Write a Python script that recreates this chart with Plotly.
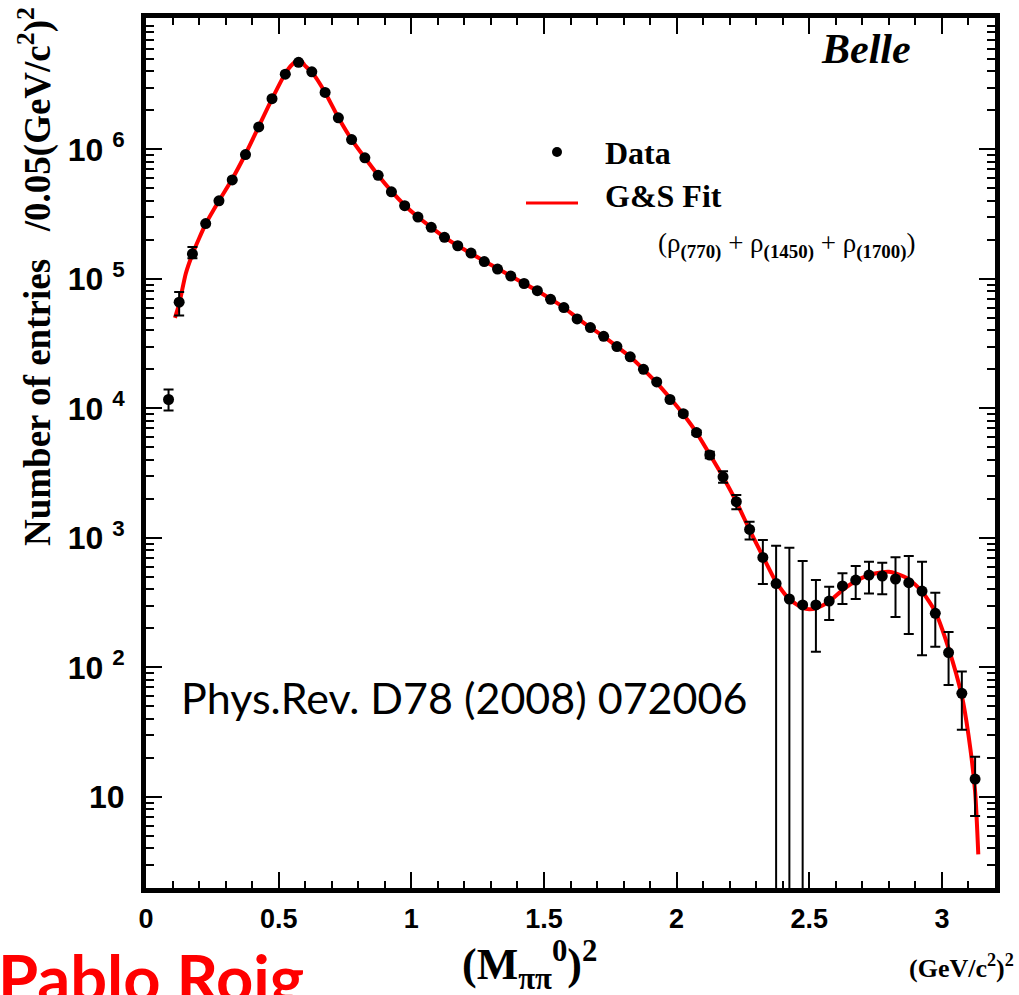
import plotly.graph_objects as go

# ---------------- data ----------------
data_x = [0.085, 0.125, 0.175, 0.225, 0.275, 0.325, 0.375, 0.425, 0.475, 0.525,
          0.575, 0.625, 0.675, 0.725, 0.775, 0.825, 0.875, 0.925, 0.975, 1.025,
          1.075, 1.125, 1.175, 1.225, 1.275, 1.325, 1.375, 1.425, 1.475, 1.525,
          1.575, 1.625, 1.675, 1.725, 1.775, 1.825, 1.875, 1.925, 1.975, 2.025,
          2.075, 2.125, 2.175, 2.225, 2.275, 2.325, 2.375, 2.425, 2.475, 2.525,
          2.575, 2.625, 2.675, 2.725, 2.775, 2.825, 2.875, 2.925, 2.975, 3.025,
          3.075, 3.125]
data_y = [1.17e4, 6.6e4, 1.56e5, 2.67e5, 4.0e5, 5.8e5, 9.1e5, 1.49e6, 2.46e6, 3.8e6,
          4.7e6, 3.97e6, 2.75e6, 1.75e6, 1.19e6, 8.6e5, 6.3e5, 4.7e5, 3.67e5, 3.0e5,
          2.5e5, 2.09e5, 1.80e5, 1.58e5, 1.36e5, 1.19e5, 1.05e5, 9.2e4, 8.1e4, 6.95e4,
          6.0e4, 4.9e4, 4.2e4, 3.6e4, 3.0e4, 2.5e4, 2.0e4, 1.6e4, 1.17e4, 9.1e3,
          6.5e3, 4.36e3, 2.96e3, 1.90e3, 1.16e3, 706, 443, 337, 303, 303,
          325, 425, 472, 516, 507, 481, 450, 388, 261, 130,
          63, 13.7]
err_plus = [2300, 1.3e4, 2.0e4, 0, 0, 0, 0, 0, 0, 0,
            0, 0, 0, 0, 0, 0, 0, 0, 0, 0,
            0, 0, 0, 0, 0, 0, 0, 0, 0, 0,
            0, 0, 0, 0, 0, 0, 0, 0, 0, 300,
            250, 250, 300, 240, 170, 256, 426, 501, 359, 169,
            94, 107, 133, 137, 135, 226, 273, 265, 116, 57,
            30, 6.7]
err_minus = [2100, 1.4e4, 1.2e4, 0, 0, 0, 0, 0, 0, 0,
             0, 0, 0, 0, 0, 0, 0, 0, 0, 0,
             0, 0, 0, 0, 0, 0, 0, 0, 0, 0,
             0, 0, 0, 0, 0, 0, 0, 0, 0, 300,
             250, 250, 300, 240, 190, 266, 442, 336, 302, 171,
             93, 117, 135, 144, 141, 236, 269, 264, 117, 57,
             30, 6.6]

fit_x = [0.109, 0.125, 0.15, 0.175, 0.2, 0.225, 0.275, 0.325, 0.375, 0.425,
         0.475, 0.525, 0.55, 0.58, 0.6, 0.625, 0.675, 0.725, 0.775, 0.825,
         0.875, 0.925, 0.975, 1.025, 1.075, 1.125, 1.175, 1.225, 1.275, 1.325,
         1.375, 1.425, 1.475, 1.525, 1.575, 1.625, 1.675, 1.725, 1.775, 1.825,
         1.875, 1.925, 1.975, 2.025, 2.075, 2.125, 2.175, 2.225, 2.275, 2.325,
         2.375, 2.425, 2.475, 2.5, 2.525, 2.575, 2.625, 2.675, 2.725, 2.775,
         2.8, 2.825, 2.875, 2.925, 2.975, 3.025, 3.075, 3.1, 3.125, 3.137]
fit_y = [5.0e4, 6.4e4, 1.10e5, 1.55e5, 2.05e5, 2.65e5, 4.0e5, 5.9e5, 9.2e5, 1.5e6,
         2.45e6, 3.85e6, 4.5e6, 4.95e6, 4.4e6, 3.95e6, 2.75e6, 1.76e6, 1.19e6, 8.6e5,
         6.3e5, 4.75e5, 3.7e5, 3.0e5, 2.5e5, 2.1e5, 1.8e5, 1.57e5, 1.37e5, 1.2e5,
         1.05e5, 9.2e4, 8.1e4, 7.0e4, 6.0e4, 5.0e4, 4.2e4, 3.6e4, 3.0e4, 2.5e4,
         2.0e4, 1.57e4, 1.2e4, 9.0e3, 6.5e3, 4.4e3, 2.95e3, 1.9e3, 1.15e3, 720,
         455, 335, 288, 281, 286, 322, 395, 465, 516, 542,
         546, 532, 480, 385, 268, 140, 60, 30, 11, 3.6]

x_tickvals = [0, 0.5, 1, 1.5, 2, 2.5, 3]
x_ticktext = ["0", "0.5", "1", "1.5", "2", "2.5", "3"]
y_tickvals = [10, 100, 1e3, 1e4, 1e5, 1e6]
y_ticktext = ["10", "10 <sup>2</sup>", "10 <sup>3</sup>", "10 <sup>4</sup>",
              "10 <sup>5</sup>", "10 <sup>6</sup>"]

# ---------------- layout geometry ----------------
W, H = 1019, 995
L, R, T, B = 146, 24, 18, 107
PW, PH = W - L - R, H - T - B


def px(x):
    return (x - L) / PW


def py(y):
    return (H - B - y) / PH


y_minor = [m * 10 ** k for k in range(0, 7) for m in range(2, 10)]

fig = go.Figure()
fig.add_trace(go.Scatter(
    x=fit_x, y=fit_y, mode="lines",
    line=dict(color="#ff0000", width=4, shape="spline", smoothing=0.6),
    showlegend=False, hoverinfo="skip"))
fig.add_trace(go.Scatter(
    x=data_x, y=data_y, mode="markers",
    marker=dict(color="black", size=11),
    error_y=dict(type="data", symmetric=False, array=err_plus, arrayminus=err_minus,
                 color="black", thickness=2, width=5),
    showlegend=False))

serif = "Liberation Serif"
sans = "Liberation Sans"

fig.update_layout(
    width=W, height=H,
    margin=dict(l=L, r=R, t=T, b=B, pad=0),
    paper_bgcolor="white", plot_bgcolor="white",
    xaxis=dict(range=[0, 3.2], showgrid=False, zeroline=False,
               showline=True, linewidth=5, linecolor="black", mirror="allticks",
               ticks="inside", ticklen=16, tickwidth=2, tickcolor="black",
               tickvals=x_tickvals, ticktext=x_ticktext,
               tickfont=dict(family=sans, size=27, color="black", weight="bold"),
               ticklabelstandoff=3,
               minor=dict(dtick=0.1, ticks="inside", ticklen=7, tickwidth=2,
                          tickcolor="black", showgrid=False)),
    yaxis=dict(type="log", range=[0.296, 7.014], showgrid=False, zeroline=False,
               showline=True, linewidth=5, linecolor="black", mirror="allticks",
               ticks="inside", ticklen=16, tickwidth=2, tickcolor="black",
               tickvals=y_tickvals, ticktext=y_ticktext,
               tickfont=dict(family=sans, size=32, color="black", weight="bold"),
               ticklabelstandoff=10,
               minor=dict(tickvals=y_minor, ticks="inside", ticklen=8, tickwidth=2,
                          tickcolor="black", showgrid=False)),
)

ann = []
ann.append(dict(text="Belle", x=px(866), y=py(49), xanchor="center", yanchor="middle",
                font=dict(family=serif, size=42, color="black", weight="bold", style="italic")))
ann.append(dict(text="Data", x=px(603), y=py(153), xanchor="left", yanchor="middle",
                font=dict(family=serif, size=32, color="black", weight="bold")))
ann.append(dict(text="G&amp;S Fit", x=px(603), y=py(196), xanchor="left", yanchor="middle",
                font=dict(family=serif, size=32, color="black", weight="bold")))
ann.append(dict(text="(ρ<sub><b>(770)</b></sub> + ρ<sub><b>(1450)</b></sub> + ρ<sub><b>(1700)</b></sub>)",
                x=px(656), y=py(245), xanchor="left", yanchor="middle",
                font=dict(family=serif, size=27, color="black")))
ann.append(dict(text="Phys.Rev. D78 (2008) 072006", x=px(179), y=py(697),
                xanchor="left", yanchor="middle",
                font=dict(family="Lato", size=43, color="black")))
ann.append(dict(text="Number of entries\u00a0\u00a0\u00a0/0.05(GeV/c<sup>2</sup>)<sup>2</sup>",
                x=px(35), y=py(277), xanchor="center", yanchor="middle", textangle=-90,
                font=dict(family=serif, size=37, color="black", weight="bold")))
ann.append(dict(text="(M<sub>ππ</sub><sup>0</sup>)<sup>2</sup>", x=px(529), y=py(965),
                xanchor="center", yanchor="middle",
                font=dict(family=serif, size=44, color="black", weight="bold")))
ann.append(dict(text="(GeV/c<sup>2</sup>)<sup>2</sup>", x=px(1016), y=py(966),
                xanchor="right", yanchor="middle",
                font=dict(family=serif, size=26, color="black", weight="bold")))
ann.append(dict(text="Pablo Roig", x=px(-4), y=py(936), xanchor="left", yanchor="top",
                font=dict(family="Lato", size=65, color="#ff0000", weight="bold")))
for a in ann:
    a.update(xref="paper", yref="paper", showarrow=False)
fig.update_layout(annotations=ann)

fig.update_layout(shapes=[
    dict(type="line", xref="paper", yref="paper", x0=px(526), x1=px(578),
         y0=py(203), y1=py(203), line=dict(color="#ff0000", width=3)),
    dict(type="circle", xref="paper", yref="paper", xsizemode="pixel", ysizemode="pixel",
         xanchor=px(557), yanchor=py(152), x0=-5, x1=5, y0=-5, y1=5,
         fillcolor="black", line=dict(color="black", width=0)),
])

fig.write_html("out.html", config={"displayModeBar": False},
               post_script="document.body.style.margin='0px';document.body.style.overflow='hidden';")
